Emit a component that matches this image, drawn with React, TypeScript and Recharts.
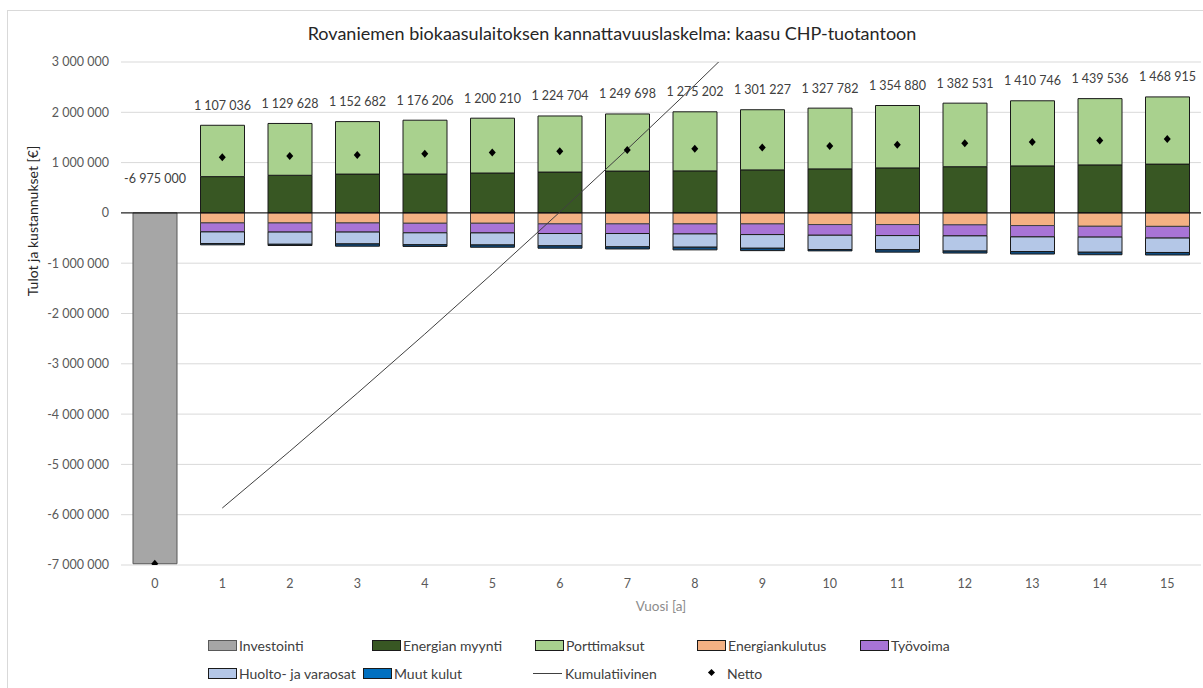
import React from "react"
import { ComposedChart, Bar, Line, Scatter, XAxis, YAxis, CartesianGrid, ReferenceLine, LabelList } from "recharts"

const FONT = "Lato, 'Open Sans', sans-serif"

const years = ["0", "1", "2", "3", "4", "5", "6", "7", "8", "9", "10", "11", "12", "13", "14", "15"]

const investointi = [-6975000, 0, 0, 0, 0, 0, 0, 0, 0, 0, 0, 0, 0, 0, 0, 0]
const energianMyynti = [0, 721000, 748000, 772000, 773000, 793000, 812000, 832000, 835000, 855000, 875000, 894000, 918000, 934000, 954000, 970000]
const porttimaksut = [0, 1021000, 1030000, 1043000, 1070000, 1090000, 1115000, 1135000, 1175000, 1196000, 1208000, 1241000, 1264000, 1295000, 1318000, 1336000]
const energiankulutus = [0, -199000, -200000, -200000, -206000, -206000, -218000, -218000, -219000, -219000, -232000, -232000, -238000, -252000, -266000, -268000]
const tyovoima = [0, -179000, -181000, -181000, -190000, -192000, -192000, -192000, -199000, -212000, -212000, -219000, -219000, -225000, -215000, -232000]
const huolto = [0, -232000, -243000, -236000, -238000, -240000, -245000, -265000, -264000, -272000, -285000, -282000, -302000, -291000, -301000, -287000]
const muutKulut = [0, -25000, -24000, -45000, -33000, -45000, -47000, -42000, -53000, -47000, -26000, -47000, -40000, -50000, -50000, -50000]
const netto = [-6975000, 1107036, 1129628, 1152682, 1176206, 1200210, 1224704, 1249698, 1275202, 1301227, 1327782, 1354880, 1382531, 1410746, 1439536, 1468915]
const kumulatiivinen = [null, -5867964, -4738336, -3585654, -2409448, -1209238, 15466, 1265164, 2540366, 3841593, 5169375, 6524255, 7906786, 9317532, 10757068, 12225983]

const yTicks = [-7000000, -6000000, -5000000, -4000000, -3000000, -2000000, -1000000, 0, 1000000, 2000000, 3000000]

const data = years.map((year, i) => ({
  year,
  investointi: investointi[i],
  energianMyynti: energianMyynti[i],
  porttimaksut: porttimaksut[i],
  energiankulutus: energiankulutus[i],
  tyovoima: tyovoima[i],
  huolto: huolto[i],
  muutKulut: muutKulut[i],
  netto: netto[i],
  kumulatiivinen: kumulatiivinen[i],
}))

const fmt = (v: number) => {
  const s = Math.abs(Math.round(v)).toString().replace(/\B(?=(\d{3})+(?!\d))/g, " ")
  return (v < 0 ? "-" : "") + s
}

// label sits above the top of the positive stack (or above the zero line for year 0)
const makeLabel = (lift: number) => (props: any) => {
  const { x, y, width, height, value } = props
  if (value == null || width == null) return null
  const top = Math.min(y, y + (height || 0))
  return (
    <text x={x + width / 2} y={top - lift} textAnchor="middle" dominantBaseline="central" fontSize={12.5} fill="#404040" fontFamily={FONT}>
      {fmt(value)}
    </text>
  )
}

function Diamond(props: any) {
  const { cx, cy } = props
  if (cx == null || cy == null) return null
  return <path d={`M${cx},${cy - 4}L${cx + 3.5},${cy}L${cx},${cy + 4}L${cx - 3.5},${cy}Z`} fill="#000" />
}

const legendItems = [
  { name: "Investointi", fill: "#a6a6a6", border: "#595959", kind: "box", x: 208, y: 645 },
  { name: "Energian myynti", fill: "#385723", border: "#1a1a1a", kind: "box", x: 372, y: 645 },
  { name: "Porttimaksut", fill: "#a9d18e", border: "#1a1a1a", kind: "box", x: 535, y: 645 },
  { name: "Energiankulutus", fill: "#f4b183", border: "#1a1a1a", kind: "box", x: 697, y: 645 },
  { name: "Työvoima", fill: "#a874d6", border: "#1a1a1a", kind: "box", x: 860, y: 645 },
  { name: "Huolto- ja varaosat", fill: "#b4c7e7", border: "#1a1a1a", kind: "box", x: 208, y: 673 },
  { name: "Muut kulut", fill: "#0070c0", border: "#1a1a1a", kind: "box", x: 363, y: 673 },
  { name: "Kumulatiivinen", fill: "#404040", border: "", kind: "line", x: 533, y: 673 },
  { name: "Netto", fill: "#000", border: "", kind: "dot", x: 697, y: 673 },
]

export default function App() {
  return (
    <div style={{ position: "fixed", left: 0, top: 0, width: 1203, height: 688, background: "#fff", overflow: "hidden", fontFamily: FONT }}>
      <div style={{ position: "absolute", left: 7, top: 10, right: -2, bottom: -2, border: "1px solid #d9d9d9" }} />
      <div style={{ position: "absolute", left: 0, width: 1224, top: 22, textAlign: "center", fontSize: 18, color: "#262626", lineHeight: "22px" }}>
        Rovaniemen biokaasulaitoksen kannattavuuslaskelma: kaasu CHP-tuotantoon
      </div>
      <div style={{ position: "absolute", left: 0, top: 0 }}>
        <ComposedChart width={1203} height={688} data={data} stackOffset="sign" margin={{ top: 62, right: 2, left: 0, bottom: 73 }}>
          <CartesianGrid vertical={false} stroke="#d9d9d9" />
          <XAxis
            dataKey="year"
            interval={0}
            height={50}
            tickSize={0}
            tickMargin={14}
            axisLine={false}
            tick={{ fill: "#595959", fontSize: 12.5, fontFamily: FONT }}
            label={{ value: "Vuosi [a]", position: "insideBottom", offset: 4, fill: "#8c8c8c", fontSize: 13.5, fontFamily: FONT }}
          />
          <YAxis
            width={121}
            domain={[-7000000, 3000000]}
            ticks={yTicks}
            allowDataOverflow
            tickSize={0}
            tickMargin={12}
            axisLine={false}
            tickFormatter={fmt}
            tick={{ fill: "#595959", fontSize: 12.5, fontFamily: FONT }}
            label={{
              content: () => (
                <text transform="translate(32,221) rotate(-90)" textAnchor="middle" dominantBaseline="central" fontSize={14} fill="#262626" fontFamily={FONT}>
                  Tulot ja kustannukset [€]
                </text>
              ),
            }}
          />
          <ReferenceLine y={0} stroke="#000" strokeWidth={1} />
          <Bar dataKey="investointi" stackId="a" barSize={44} fill="#a6a6a6" stroke="#595959" isAnimationActive={false}>
            <LabelList dataKey="netto" content={makeLabel(34)} />
          </Bar>
          <Bar dataKey="energianMyynti" stackId="a" barSize={44} fill="#385723" stroke="#1a1a1a" isAnimationActive={false} />
          <Bar dataKey="porttimaksut" stackId="a" barSize={44} fill="#a9d18e" stroke="#1a1a1a" isAnimationActive={false}>
            <LabelList dataKey="netto" content={makeLabel(20)} />
          </Bar>
          <Bar dataKey="energiankulutus" stackId="a" barSize={44} fill="#f4b183" stroke="#404040" isAnimationActive={false} />
          <Bar dataKey="tyovoima" stackId="a" barSize={44} fill="#a874d6" stroke="#404040" isAnimationActive={false} />
          <Bar dataKey="huolto" stackId="a" barSize={44} fill="#b4c7e7" stroke="#1a1a1a" isAnimationActive={false} />
          <Bar dataKey="muutKulut" stackId="a" barSize={44} fill="#0f4c81" stroke="#1a1a1a" isAnimationActive={false} />
          <Line dataKey="kumulatiivinen" type="linear" stroke="#404040" strokeWidth={1} dot={false} activeDot={false} connectNulls={false} isAnimationActive={false} />
          <Scatter dataKey="netto" shape={Diamond} isAnimationActive={false} />
        </ComposedChart>
      </div>
      {legendItems.map((it) => (
        <div key={it.name} style={{ position: "absolute", left: it.x, top: it.y - 10, height: 20, display: "flex", alignItems: "center", fontSize: 14, color: "#404040", whiteSpace: "nowrap" }}>
          {it.kind === "box" && <span style={{ display: "inline-block", width: 27, height: 9, background: it.fill, border: `1px solid ${it.border}`, marginRight: 2 }} />}
          {it.kind === "line" && <span style={{ display: "inline-block", width: 29, height: 1, background: it.fill, marginRight: 3 }} />}
          {it.kind === "dot" && (
            <span style={{ display: "inline-block", width: 29, height: 10, position: "relative", marginRight: 1 }}>
              <span style={{ position: "absolute", left: 12, top: 2, width: 5, height: 5, background: "#000", transform: "rotate(45deg)" }} />
            </span>
          )}
          {it.name}
        </div>
      ))}
    </div>
  )
}
